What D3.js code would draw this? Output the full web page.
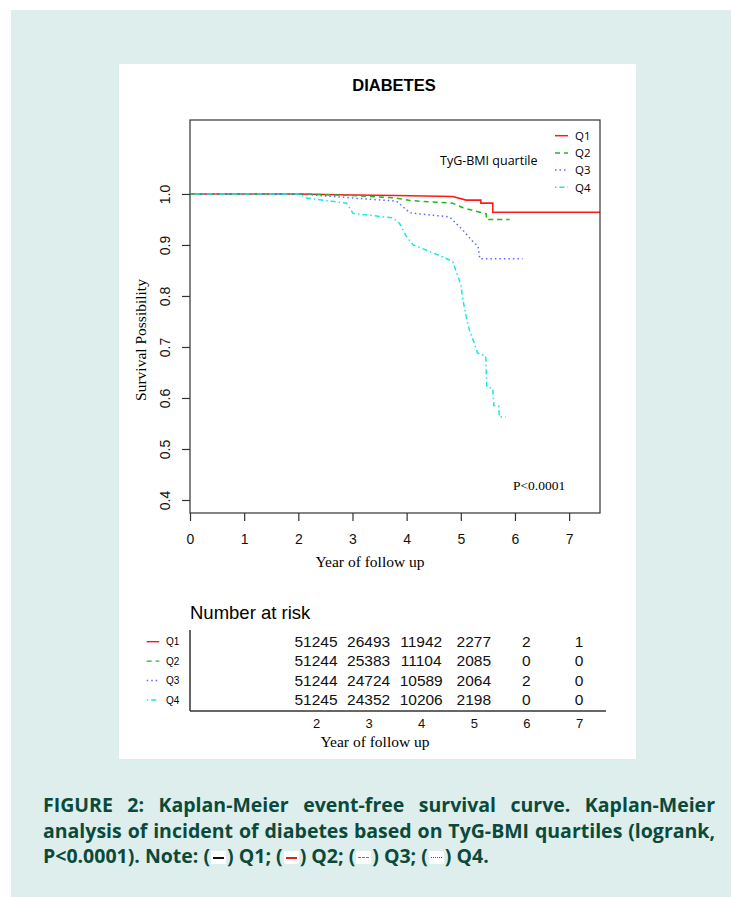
<!DOCTYPE html>
<html lang="en">
<head>
<meta charset="UTF-8">
<title>Kaplan-Meier: Diabetes by TyG-BMI quartile</title>
<script src="https://cdnjs.cloudflare.com/ajax/libs/d3/7.8.5/d3.min.js"></script>
<style>
    body {
        margin: 0;
        background: #ffffff;
        width: 731px;
        height: 897px;
        overflow: hidden;
        position: relative;
    }
    #bg {
        position: absolute;
        left: 11px;
        top: 10px;
        width: 720px;
        height: 887px;
        background: #ddeeec;
    }
    #chart {
        position: absolute;
        left: 0;
        top: 0;
    }
    .caption {
        position: absolute;
        left: 43px;
        width: 672px;
        font-family: "Open Sans", sans-serif;
        font-weight: 700;
        color: #0b4a3a;
        white-space: nowrap;
        line-height: 1;
    }
    .justify {
        text-align: justify;
        text-align-last: justify;
        white-space: normal;
    }
    .sw {
        display: inline-block;
        width: 15px;
        height: 13px;
        background: #fff;
        position: relative;
        vertical-align: -1px;
        margin: 0 1px;
    }
    .sw i {
        position: absolute;
        left: 2px;
        right: 2px;
        top: 6px;
    }
</style>
</head>
<body>
<div id="bg"></div>
<svg id="chart" width="731" height="897"></svg>
<div class="caption justify" id="cap1">FIGURE 2: Kaplan-Meier event-free survival curve. Kaplan-Meier</div>
<div class="caption justify" id="cap2">analysis of incident of diabetes based on TyG-BMI quartiles (logrank,</div>
<div class="caption" id="cap3">P&lt;0.0001). Note: (<span class="sw"><i style="border-top:2px solid #111"></i></span>) Q1; (<span class="sw"><i style="border-top:2px solid #e02020"></i></span>) Q2; (<span class="sw"><i style="border-top:1px dashed #22bb22"></i></span>) Q3; (<span class="sw"><i style="border-top:1px dotted #4444ff"></i></span>) Q4.</div>

<script>
// ---- data ----
const groups = ["Q1", "Q2", "Q3", "Q4"];
const xTicks = [0, 1, 2, 3, 4, 5, 6, 7];
const yTicks = [0.4, 0.5, 0.6, 0.7, 0.8, 0.9, 1.0];

// survival curves (time in years, survival probability)
const q1Time = [0, 2.0, 3.0, 3.8, 4.85, 5.1, 5.37, 5.37, 5.59, 5.59, 7.57];
const q1Surv = [1, 1, 0.998, 0.997, 0.995, 0.988, 0.988, 0.982, 0.982, 0.964, 0.964];

const q2Time = [0, 2.03, 3.01, 3.81, 4.06, 4.85, 5.04, 5.47, 5.47, 5.9];
const q2Surv = [1, 1, 0.997, 0.992, 0.987, 0.982, 0.973, 0.961, 0.950, 0.950];

const q3Time = [0, 2.03, 3.01, 3.81, 4.06, 4.79, 5.04, 5.22, 5.32, 5.35, 6.14];
const q3Surv = [1, 1, 0.992, 0.986, 0.963, 0.955, 0.929, 0.907, 0.897, 0.873, 0.873];

const q4Time = [0, 2.03, 2.15, 2.89, 3.01, 3.75, 3.87, 4.0, 4.12, 4.43, 4.85, 5.0, 5.04, 5.10, 5.16, 5.25, 5.31, 5.46, 5.48, 5.59, 5.61, 5.70, 5.71, 5.83];
const q4Surv = [1, 1, 0.992, 0.982, 0.962, 0.953, 0.942, 0.916, 0.900, 0.887, 0.868, 0.822, 0.792, 0.759, 0.733, 0.707, 0.688, 0.682, 0.622, 0.619, 0.585, 0.584, 0.563, 0.563];

// number at risk table
const riskYears = [2, 3, 4, 5, 6, 7];
const riskQ1 = [51245, 26493, 11942, 2277, 2, 1];
const riskQ2 = [51244, 25383, 11104, 2085, 0, 0];
const riskQ3 = [51244, 24724, 10589, 2064, 2, 0];
const riskQ4 = [51245, 24352, 10206, 2198, 0, 0];

const curves = [[q1Time, q1Surv], [q2Time, q2Surv], [q3Time, q3Surv], [q4Time, q4Surv]];
const risks = [riskQ1, riskQ2, riskQ3, riskQ4];

// line styles per group
const colors = ["#ff1a1a", "#1dbb1d", "#6464ff", "#19e8e8"];
const dashes = [null, "5,4", "1.5,3", "1.5,3,5,3"];

const sans = "'Liberation Sans', Arial, sans-serif";
const serif = "'Liberation Serif', 'Times New Roman', serif";

const svg = d3.select("#chart");

// white panel
svg.append("rect")
    .attr("x", 119).attr("y", 64)
    .attr("width", 517).attr("height", 695)
    .attr("fill", "#fff");

// plot area
const plot = { left: 190, right: 600, top: 120, bottom: 513 };
const x = d3.scaleLinear().domain([0, 7.57]).range([plot.left, plot.right]);
const y = d3.scaleLinear().domain([0.3745, 1.145]).range([plot.bottom, plot.top]);

svg.append("text")
    .attr("x", 394).attr("y", 91)
    .attr("text-anchor", "middle")
    .style("font-family", sans)
    .style("font-size", "16.5px")
    .style("font-weight", "bold")
    .text("DIABETES");

// curves
const line = d3.line()
    .x(d => x(d[0]))
    .y(d => y(d[1]));

curves.forEach((c, i) => {
    const pts = c[0].map((t, j) => [t, c[1][j]]);
    svg.append("path")
        .attr("d", line(pts))
        .attr("fill", "none")
        .attr("stroke", colors[i])
        .attr("stroke-width", i === 0 ? 1.6 : 1.5)
        .attr("stroke-dasharray", dashes[i]);
});

// box
svg.append("rect")
    .attr("x", plot.left).attr("y", plot.top)
    .attr("width", plot.right - plot.left)
    .attr("height", plot.bottom - plot.top)
    .attr("fill", "none")
    .attr("stroke", "#333")
    .attr("stroke-width", 1.2);

// x axis
const xAxis = svg.append("g")
    .attr("transform", `translate(0,${plot.bottom})`)
    .call(d3.axisBottom(x).tickValues(xTicks).tickSize(8).tickPadding(13).tickFormat(d3.format("d")));
xAxis.select(".domain").remove();
xAxis.selectAll("line").attr("stroke", "#333").attr("stroke-width", 1.2);
xAxis.selectAll("text")
    .style("font-family", sans)
    .style("font-size", "14px")
    .attr("fill", "#111");

// y axis with rotated labels
const yAxis = svg.append("g")
    .attr("transform", `translate(${plot.left},0)`)
    .call(d3.axisLeft(y).tickValues(yTicks).tickSize(8).tickFormat(d3.format(".1f")));
yAxis.select(".domain").remove();
yAxis.selectAll("line").attr("stroke", "#333").attr("stroke-width", 1.2);
yAxis.selectAll("text")
    .attr("x", 0).attr("dy", null)
    .attr("text-anchor", "middle")
    .attr("transform", "translate(-20.5,0) rotate(-90)")
    .style("font-family", sans)
    .style("font-size", "14px")
    .attr("fill", "#111");

svg.append("text")
    .attr("transform", "translate(146,340) rotate(-90)")
    .attr("text-anchor", "middle")
    .style("font-family", serif)
    .style("font-size", "15.5px")
    .text("Survival Possibility");

svg.append("text")
    .attr("x", 370).attr("y", 567)
    .attr("text-anchor", "middle")
    .style("font-family", serif)
    .style("font-size", "15.5px")
    .text("Year of follow up");

svg.append("text")
    .attr("x", 513).attr("y", 490)
    .style("font-family", serif)
    .style("font-size", "13.5px")
    .text("P<0.0001");

// legend inside plot
const legY = d3.scalePoint().domain(groups).range([135.7, 187.3]);
svg.append("text")
    .attr("x", 440).attr("y", 164.5)
    .style("font-family", "'Open Sans', sans-serif")
    .style("font-size", "12.5px")
    .text("TyG-BMI quartile");

groups.forEach((g, i) => {
    svg.append("line")
        .attr("x1", 555).attr("x2", 568)
        .attr("y1", legY(g)).attr("y2", legY(g))
        .attr("stroke", colors[i])
        .attr("stroke-width", 1.5)
        .attr("stroke-dasharray", dashes[i]);
    svg.append("text")
        .attr("x", 575).attr("y", legY(g) + 4.3)
        .style("font-family", "'Open Sans', sans-serif")
        .style("font-size", "11.5px")
        .text(g);
});

// number at risk table
const rx = d3.scaleLinear().domain([2, 7]).range([316, 579]);
const ry = d3.scalePoint().domain(groups).range([646.7, 705]);

svg.append("text")
    .attr("x", 190).attr("y", 619)
    .style("font-family", sans)
    .style("font-size", "18.5px")
    .text("Number at risk");

svg.append("line")
    .attr("x1", 190).attr("x2", 190)
    .attr("y1", 630).attr("y2", 711)
    .attr("stroke", "#333").attr("stroke-width", 1.5);
svg.append("line")
    .attr("x1", 190).attr("x2", 606)
    .attr("y1", 711).attr("y2", 711)
    .attr("stroke", "#333").attr("stroke-width", 1.5);

const rAxis = svg.append("g")
    .attr("transform", "translate(0,711)")
    .call(d3.axisBottom(rx).tickValues(riskYears).tickSize(0).tickPadding(7.5).tickFormat(d3.format("d")));
rAxis.select(".domain").remove();
rAxis.selectAll("text")
    .style("font-family", sans)
    .style("font-size", "13px")
    .attr("fill", "#111");

svg.append("text")
    .attr("x", 375).attr("y", 747)
    .attr("text-anchor", "middle")
    .style("font-family", serif)
    .style("font-size", "15.5px")
    .text("Year of follow up");

groups.forEach((g, i) => {
    svg.selectAll(null)
        .data(risks[i])
        .join("text")
        .attr("x", (d, j) => rx(riskYears[j]))
        .attr("y", ry(g))
        .attr("text-anchor", "middle")
        .style("font-family", sans)
        .style("font-size", "15.5px")
        .attr("fill", "#111")
        .text(d => d);

    svg.append("line")
        .attr("x1", 146.7).attr("x2", 159.3)
        .attr("y1", ry(g) - 5).attr("y2", ry(g) - 5)
        .attr("stroke", colors[i])
        .attr("stroke-width", 1.4)
        .attr("stroke-dasharray", dashes[i]);
    svg.append("text")
        .attr("x", 166).attr("y", ry(g) - 1.5)
        .style("font-family", sans)
        .style("font-size", "10px")
        .text(g);
});

// caption: bold type at ~20px, width-axis chosen so the fullest line fits the column
const fs = 19.5;
const line2 = document.getElementById("cap2").textContent;
function measure(stretch) {
    const probe = document.createElement("span");
    probe.style.cssText = "position:absolute;visibility:hidden;white-space:nowrap;font-family:'Open Sans',sans-serif;font-weight:700;font-size:" + fs + "px;font-stretch:" + stretch + "%";
    probe.textContent = line2;
    document.body.appendChild(probe);
    const w = probe.getBoundingClientRect().width;
    probe.remove();
    return w;
}
const w100 = measure(100), w75 = measure(75);
let stretch = 100;
if (w100 > 660 && w100 !== w75) stretch = Math.max(75, 75 + 25 * (660 - w75) / (w100 - w75));

const capBase = [811, 836.7, 862.2];
["cap1", "cap2", "cap3"].forEach((id, i) => {
    const el = document.getElementById(id);
    el.style.fontSize = fs + "px";
    el.style.fontStretch = stretch + "%";
    el.style.top = (capBase[i] - fs * 0.82) + "px";
});
</script>
</body>
</html>
